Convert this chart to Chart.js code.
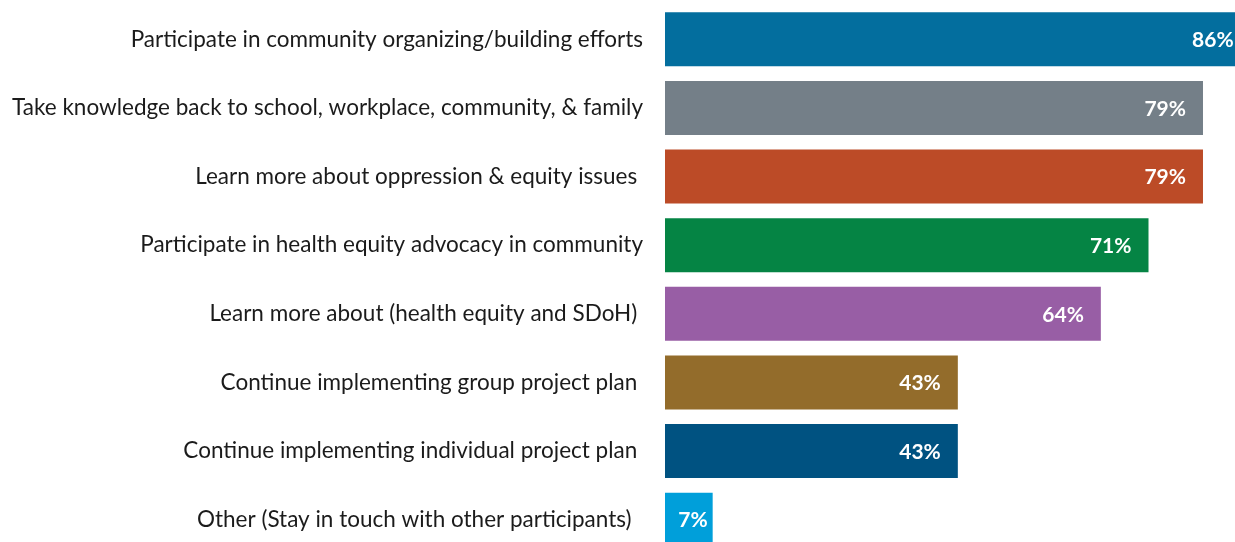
<!DOCTYPE html>
<html>
<head>
<meta charset="utf-8">
<title>Next steps</title>
<script src="https://cdn.jsdelivr.net/npm/chart.js@4.4.0/dist/chart.umd.min.js"></script>
<style>
  html, body { margin: 0; padding: 0; background: #fff; overflow: hidden; }
  #wrap { width: 1350px; height: 560px; }
</style>
</head>
<body>
<div id="wrap"><canvas id="myChart" width="1350" height="560"></canvas></div>
<script>
// categories (trailing spaces kept as in the source sheet)
var categorias = [
    'Participate in community organizing/building efforts',
    'Take knowledge back to school, workplace, community, & family',
    'Learn more about oppression & equity issues ',
    'Participate in health equity advocacy in community',
    'Learn more about (health equity and SDoH) ',
    'Continue implementing group project plan ',
    'Continue implementing individual project plan ',
    'Other (Stay in touch with other participants)  '
];
var porcentajes = [86, 79, 79, 71, 64, 43, 43, 7];
var colores = ['#036e9e', '#747f88', '#bc4b27', '#058444', '#985ea5', '#936c2b', '#005281', '#009fda'];

// white % labels inside the end of each bar
var etiquetas = {
    id: 'etiquetas',
    afterDatasetsDraw: function(chart) {
        var ctx = chart.ctx;
        var meta = chart.getDatasetMeta(0);
        ctx.save();
        ctx.font = 'bold 21px Lato';
        ctx.fillStyle = '#ffffff';
        ctx.textAlign = 'right';
        ctx.textBaseline = 'middle';
        meta.data.forEach(function(bar, i) {
            var ancho = bar.x - bar.base;
            var pad = ancho < 60 ? 5 : 17;
            ctx.fillText(porcentajes[i] + '%', bar.x - pad, bar.y + 1);
        });
        ctx.restore();
    }
};

var ctx = document.getElementById('myChart').getContext('2d');
var chart = new Chart(ctx, {
    type: 'bar',
    data: {
        labels: categorias,
        datasets: [{
            label: 'Next steps',
            data: porcentajes,
            backgroundColor: colores,
            borderWidth: 0,
            barPercentage: 0.787,
            categoryPercentage: 1
        }]
    },
    options: {
        indexAxis: 'y',
        responsive: false,
        animation: false,
        layout: { padding: { top: 5, bottom: 6, left: 0, right: 4 } },
        plugins: {
            legend: { display: false },
            tooltip: { enabled: false }
        },
        scales: {
            x: {
                display: false,
                min: 0,
                max: 100
            },
            y: {
                // invisible tick marks give the gap between label and bar
                grid: {
                    display: true,
                    drawOnChartArea: false,
                    drawTicks: true,
                    tickLength: 22,
                    tickColor: 'rgba(0,0,0,0)'
                },
                border: { display: false },
                ticks: {
                    color: '#1b1b1b',
                    padding: 0,
                    font: { family: 'Lato', size: 22.5 }
                },
                afterFit: function(scale) {
                    scale.width = 665;
                    scale.paddingTop = 0;
                    scale.paddingBottom = 0;
                }
            }
        }
    },
    plugins: [etiquetas]
});
</script>
</body>
</html>
